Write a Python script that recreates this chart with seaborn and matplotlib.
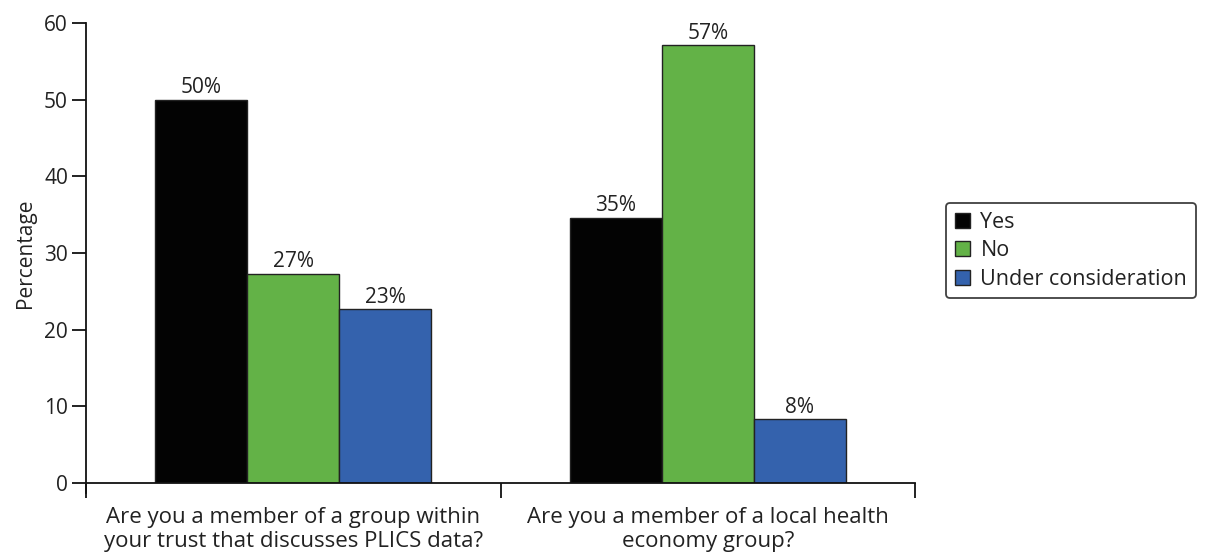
import matplotlib
matplotlib.use("Agg")
import matplotlib.pyplot as plt
import seaborn as sns
import pandas as pd

# values
questions = [
    "Are you a member of a group within\nyour trust that discusses PLICS data?",
    "Are you a member of a local health\neconomy group?",
]
responses = ["Yes", "No", "Under consideration"]
yes_pct = [50.0, 34.6]
no_pct = [27.3, 57.1]
under_pct = [22.7, 8.3]
colors = ["#030303", "#63b247", "#3462ad"]

rows = []
for i, q in enumerate(questions):
    for resp, vals in zip(responses, [yes_pct, no_pct, under_pct]):
        rows.append({"question": q, "response": resp, "pct": vals[i]})
df = pd.DataFrame(rows)

sns.set_theme(style="white")
plt.rcParams["font.family"] = ["Open Sans", "DejaVu Sans"]

fig = plt.figure(figsize=(12.06, 5.54), dpi=100)
ax = fig.add_axes([86 / 1206, 1 - 483 / 554, (915 - 86) / 1206, (483 - 23) / 554])

sns.barplot(data=df, x="question", y="pct", hue="response", hue_order=responses,
            palette=colors, width=0.667, gap=0, edgecolor="#222222", linewidth=1.0,
            saturation=1, ax=ax)

for cont in ax.containers:
    ax.bar_label(cont, labels=[f"{v:.0f}%" for v in cont.datavalues],
                 padding=1, fontsize=15, color="#222222")

ax.set_ylim(0, 60)
ax.set_xlim(-0.5, 1.5)
ax.set_yticks(range(0, 61, 10))
ax.set_xlabel("")
ax.set_ylabel("Percentage", fontsize=15, color="#222222", labelpad=6)

for s in ["top", "right"]:
    ax.spines[s].set_visible(False)
for s in ["left", "bottom"]:
    ax.spines[s].set_color("#111111")
    ax.spines[s].set_linewidth(1.3)
ax.spines["left"].set_bounds(-1.3, 60)

ax.tick_params(axis="y", which="major", direction="out", length=10, width=1.3,
               color="#111111", labelsize=15, labelcolor="#222222", left=True, pad=3)
ax.tick_params(axis="x", which="major", length=0, labelsize=16, labelcolor="#222222", pad=17)
ax.set_xticks([-0.5, 0.5, 1.5], minor=True)
ax.tick_params(axis="x", which="minor", direction="out", length=11, width=1.3,
               color="#111111", bottom=True)

handles, labels = ax.get_legend_handles_labels()
leg = ax.legend(handles, labels, loc="upper left", bbox_to_anchor=(946 / 1206, 1 - 203 / 554),
                bbox_transform=fig.transFigure, fontsize=15.5, frameon=True, fancybox=True,
                handlelength=0.7, handleheight=0.7, handletextpad=0.5, labelspacing=0.35,
                borderpad=0.4, borderaxespad=0)
leg.get_frame().set_edgecolor("#111111")
leg.get_frame().set_linewidth(1.3)
for t in leg.get_texts():
    t.set_color("#222222")

fig.savefig("out.png", dpi=100)
